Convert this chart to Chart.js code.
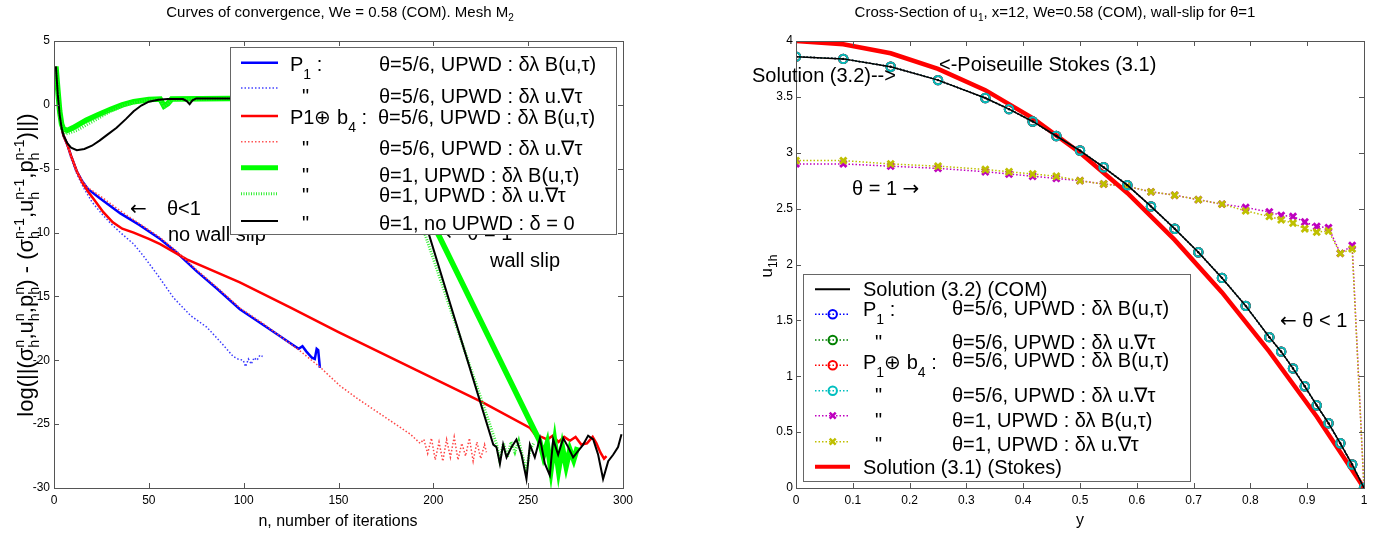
<!DOCTYPE html>
<html>
<head>
<meta charset="utf-8">
<script src="https://cdn.jsdelivr.net/npm/chart.js@4.4.1/dist/chart.umd.min.js"></script>
<style>
  body { margin: 0; background: #fff; width: 1385px; height: 533px; position: relative; overflow: hidden; }
  canvas { position: absolute; top: 0; }
  #conv { left: 0; }
  #cross { left: 700px; }
  #over { position: absolute; left: 0; top: 0; }
  .arr { font-family: 'DejaVu Sans', sans-serif; }
</style>
</head>
<body>
<canvas id="conv" width="690" height="533"></canvas>
<canvas id="cross" width="685" height="533"></canvas>
<svg id="over" width="1385" height="533" font-family="'Liberation Sans', Arial, sans-serif" font-size="20" fill="#000">
  <!-- titles and axis labels -->
  <text x="340" y="17" text-anchor="middle" font-size="15">Curves of convergence, We = 0.58 (COM). Mesh M<tspan font-size="10" dy="4">2</tspan></text>
  <text x="1055" y="17" text-anchor="middle" font-size="15">Cross-Section of u<tspan font-size="10" dy="4">1</tspan><tspan dy="-4">, x=12, We=0.58 (COM), wall-slip for θ=1</tspan></text>
  <text x="338" y="526" text-anchor="middle" font-size="16">n, number of iterations</text>
  <text x="1080" y="525" text-anchor="middle" font-size="16">y</text>
  <text id="ylab" transform="translate(33,265) rotate(-90)" text-anchor="middle" font-size="22"></text>
  <text transform="translate(772,266) rotate(-90)" text-anchor="middle" font-size="17">u<tspan font-size="12" dy="5">1h</tspan></text>

  <!-- left annotations (the first one sits behind the legend) -->
  <text x="445" y="240"><tspan class="arr">←</tspan> θ = 1</text>
  <text x="130" y="215" class="arr">←</text>
  <text x="167" y="215">θ&lt;1</text>
  <text x="168" y="241">no wall slip</text>
  <text x="490" y="267">wall slip</text>

  <!-- left legend -->
  <rect x="230.5" y="47.5" width="386" height="187" fill="#fff" stroke="#666"/>
  <line x1="241" x2="278" y1="62.7" y2="62.7" stroke="#0000ff" stroke-width="2.5"/>
  <line x1="241" x2="278" y1="88" y2="88" stroke="#4444ff" stroke-width="1.5" stroke-dasharray="1.5 2"/>
  <line x1="241" x2="278" y1="116" y2="116" stroke="#ff0000" stroke-width="2.5"/>
  <line x1="241" x2="278" y1="141.7" y2="141.7" stroke="#ff5555" stroke-width="1.5" stroke-dasharray="1.5 2"/>
  <line x1="241" x2="278" y1="167.7" y2="167.7" stroke="#00ff00" stroke-width="5"/>
  <line x1="241" x2="278" y1="193.7" y2="193.7" stroke="#33ee33" stroke-width="3" stroke-dasharray="1 1.5"/>
  <line x1="241" x2="278" y1="221" y2="221" stroke="#000" stroke-width="2"/>
  <text x="290" y="71">P<tspan font-size="14" dy="8">1</tspan><tspan dy="-8"> :</tspan></text>
  <text x="379" y="71">θ=5/6, UPWD : δλ B(u,τ)</text>
  <text x="302" y="103">"</text>
  <text x="379" y="103">θ=5/6, UPWD : δλ u.∇τ</text>
  <text x="290" y="124">P1⊕ b<tspan font-size="14" dy="8">4</tspan><tspan dy="-8"> :</tspan></text>
  <text x="378" y="124">θ=5/6, UPWD : δλ B(u,τ)</text>
  <text x="302" y="155">"</text>
  <text x="379" y="155">θ=5/6, UPWD : δλ u.∇τ</text>
  <text x="302" y="182">"</text>
  <text x="379" y="182">θ=1, UPWD : δλ B(u,τ)</text>
  <text x="302" y="202">"</text>
  <text x="379" y="202">θ=1, UPWD : δλ u.∇τ</text>
  <text x="302" y="229.5">"</text>
  <text x="379" y="229.5">θ=1, no UPWD : δ = 0</text>

  <!-- right annotations -->
  <text x="939" y="70.5">&lt;-Poiseuille Stokes (3.1)</text>
  <text x="752" y="82">Solution (3.2)--&gt;</text>
  <text x="852" y="195">θ = 1  <tspan class="arr">→</tspan></text>
  <text x="1280" y="327"><tspan class="arr">←</tspan> θ &lt; 1</text>

  <!-- right legend -->
  <rect x="803.5" y="274.5" width="387" height="207" fill="#fff" stroke="#666"/>
  <line x1="815" x2="850" y1="289.3" y2="289.3" stroke="#000" stroke-width="2"/>
  <line x1="815" x2="850" y1="314.3" y2="314.3" stroke="#0000ff" stroke-width="1.5" stroke-dasharray="1.5 2"/>
  <circle cx="832.7" cy="314.3" r="4.2" fill="none" stroke="#0000ff" stroke-width="2"/>
  <line x1="815" x2="850" y1="340" y2="340" stroke="#008000" stroke-width="1.5" stroke-dasharray="1.5 2"/>
  <circle cx="832.7" cy="340" r="4.2" fill="none" stroke="#008000" stroke-width="2"/>
  <line x1="815" x2="850" y1="365.3" y2="365.3" stroke="#ff0000" stroke-width="1.5" stroke-dasharray="1.5 2"/>
  <circle cx="832.7" cy="365.3" r="4.2" fill="none" stroke="#ff0000" stroke-width="2"/>
  <line x1="815" x2="850" y1="390.7" y2="390.7" stroke="#00bfbf" stroke-width="1.5" stroke-dasharray="1.5 2"/>
  <circle cx="832.7" cy="390.7" r="4.2" fill="none" stroke="#00bfbf" stroke-width="2"/>
  <line x1="815" x2="850" y1="415.7" y2="415.7" stroke="#bf00bf" stroke-width="1.5" stroke-dasharray="1.5 2"/>
  <path d="M829.7 412.7 L835.7 418.7 M835.7 412.7 L829.7 418.7" stroke="#bf00bf" stroke-width="2.5"/>
  <line x1="815" x2="850" y1="441.7" y2="441.7" stroke="#bfbf00" stroke-width="1.5" stroke-dasharray="1.5 2"/>
  <path d="M829.7 438.7 L835.7 444.7 M835.7 438.7 L829.7 444.7" stroke="#bfbf00" stroke-width="2.5"/>
  <line x1="815" x2="850" y1="466.7" y2="466.7" stroke="#ff0000" stroke-width="4"/>
  <text x="863" y="296">Solution (3.2) (COM)</text>
  <text x="863" y="316">P<tspan font-size="14" dy="8">1</tspan><tspan dy="-8"> :</tspan></text>
  <text x="952" y="315">θ=5/6, UPWD : δλ B(u,τ)</text>
  <text x="875" y="349">"</text>
  <text x="952" y="349">θ=5/6, UPWD : δλ u.∇τ</text>
  <text x="863" y="369">P<tspan font-size="14" dy="8">1</tspan><tspan dy="-8">⊕ b</tspan><tspan font-size="14" dy="8">4</tspan><tspan dy="-8"> :</tspan></text>
  <text x="952" y="367">θ=5/6, UPWD : δλ B(u,τ)</text>
  <text x="875" y="402">"</text>
  <text x="952" y="402">θ=5/6, UPWD : δλ u.∇τ</text>
  <text x="875" y="427">"</text>
  <text x="952" y="427">θ=1, UPWD : δλ B(u,τ)</text>
  <text x="875" y="450.5">"</text>
  <text x="952" y="450.5">θ=1, UPWD : δλ u.∇τ</text>
  <text x="863" y="474">Solution (3.1) (Stokes)</text>
</svg>
<script>
// ---- left panel: log of successive differences vs iteration n ----
const p1B_n = [1,2,3,4,5,7,9,12,15,18,24,35,45,56,65,75,86,98,110,120,126,129,131,133,136,137.5,138.5,139.3,140.2];
const p1B_v = [3,0.8,-0.8,-1.8,-2.4,-3.1,-4.0,-5.2,-6.0,-6.6,-7.3,-8.5,-9.4,-10.5,-11.6,-13.0,-14.4,-16.0,-17.2,-18.2,-18.8,-19.1,-18.9,-19.3,-19.8,-19.9,-19.1,-19.2,-20.6];

const p1T_n = [1,2,3,4,5,7,9,12,16,20,25,30,35,42,47,55,63,72,80.5,88,94.5,97,99.8,101,102.5,104,105.5,107,108.6,110];
const p1T_v = [3,0.8,-0.8,-1.8,-2.4,-3.2,-4.2,-5.4,-6.6,-7.6,-8.5,-9.3,-10.0,-10.9,-11.8,-13.4,-15.1,-16.5,-17.4,-18.6,-19.7,-19.9,-20.0,-20.5,-19.9,-20.3,-19.8,-20.0,-19.6,-19.7];

const bubB_n = [1,2,3,4,5,7,9,12,15,18,21,26,31,36,42,50,56,70,98,125,150,190,226,251,254,257,260,263,266,269,272,275,278,281,284,286,288,290,291.3];
const bubB_v = [3,0.8,-0.8,-1.8,-2.4,-3.1,-4.0,-5.2,-6.1,-6.8,-7.4,-8.4,-9.2,-9.7,-10.0,-10.5,-10.9,-12.1,-13.9,-15.9,-17.8,-20.7,-23.3,-25.3,-25.9,-26.0,-26.2,-25.9,-26.4,-26.0,-26.3,-26.0,-26.6,-26.5,-26.0,-26.5,-27.2,-27.7,-27.5];

const bubT_n = [1,2,3,4,5,7,9,12,15,18,24,35,45,56,65,75,86,98,110,120,130,140,150.8,160,170,180,188,193,195,197,199,201,203,205,207,209,211,213,215,217,219,221,223,225,227,228];
const bubT_v = [3,0.8,-0.8,-1.8,-2.4,-3.1,-4.0,-5.2,-6.0,-6.5,-7.1,-8.3,-9.3,-10.4,-11.5,-12.9,-14.3,-15.9,-17.1,-18.2,-19.3,-20.5,-22.0,-23.0,-24.0,-25.0,-25.8,-26.5,-26.2,-27.3,-26.1,-27.8,-26.4,-27.9,-26.2,-27.6,-26.0,-27.8,-26.5,-27.5,-26.1,-27.9,-26.4,-27.7,-26.6,-27.2];

const t1B_n = [1,2,3,4,5,7,10,17,23,30,36,42,50,56,58,60,62,93,165,203.5,256,258,260,262,264,266,268,270,272,274,276];
const t1B_v = [3,1.2,-0.5,-1.5,-1.9,-2.0,-1.8,-1.2,-0.8,-0.35,0,0.25,0.42,0.45,-0.1,0.1,0.45,0.5,0.5,-10.4,-26.3,-27.5,-26.5,-28.6,-26.4,-28.6,-26.8,-28.3,-27.0,-27.8,-26.8];

const t1T_n = [1,2,3,4,6,8,12,18,24,30,36,42,50,56,58,60,62,93,170,196,233.4,235,237,239,241,243,245,247,249,251,253];
const t1T_v = [3,1.0,-0.8,-1.8,-2.3,-2.2,-2.0,-1.5,-1.0,-0.5,-0.1,0.15,0.38,0.4,-0.2,0.05,0.4,0.5,0.5,-10.3,-26.6,-27.8,-26.5,-27.6,-26.4,-27.2,-26.3,-27.5,-28.6,-27.0,-26.5];

const t1N_n = [1,2,3,4,5,7,9,12,16,20,24,28,33,38,42,46,50,55,60,68,70,71.5,73,75,93,176,198,231.6,233.3,235.1,236.8,238.6,241.2,243.8,246.5,249.1,250.9,253.5,256.2,258.8,261.4,263.2,265.8,268.5,271.1,273.7,276.4,279,281.6,284.3,286.9,289.5,292.2,294.8,297.4,299.2];
const t1N_v = [3,0.8,-0.8,-1.8,-2.4,-3.0,-3.35,-3.55,-3.45,-3.2,-2.8,-2.35,-1.8,-1.1,-0.5,-0.05,0.25,0.4,0.45,0.45,0.3,0.05,0.35,0.5,0.5,0.5,-10.3,-26.6,-26.8,-28.1,-26.6,-27.6,-26.8,-26.2,-27.4,-29.3,-26.6,-27.6,-26.1,-28.1,-29.0,-26.2,-27.4,-26.1,-26.8,-27.6,-27.1,-26.6,-25.9,-26.2,-27.4,-29.3,-27.9,-27.4,-26.8,-25.8];

// ---- right panel: cross-section u_1h(y) ----
const yPos = [0,0.0833,0.1667,0.25,0.3333,0.375,0.4167,0.4583,0.5,0.5417,0.5833,0.625,0.6667,0.7083,0.75,0.7917,0.8333,0.8542,0.875,0.8958,0.9167,0.9375,0.9583,0.9792,1];
const uCOM = [3.86,3.84,3.77,3.65,3.49,3.39,3.28,3.15,3.02,2.87,2.71,2.52,2.32,2.11,1.88,1.63,1.35,1.22,1.07,0.91,0.74,0.58,0.40,0.21,0];
const uTheta56 = [3.86,3.84,3.77,3.65,3.49,3.39,3.28,3.15,3.02,2.87,2.71,2.52,2.32,2.11,1.88,1.63,1.35,1.22,1.07,0.91,0.74,0.58,0.40,0.21,0];
const uTheta1B = [2.90,2.90,2.88,2.86,2.83,2.81,2.79,2.77,2.75,2.72,2.70,2.65,2.62,2.58,2.54,2.51,2.47,2.44,2.43,2.38,2.34,2.33,2.10,2.17,0];
const uTheta1T = [2.93,2.93,2.90,2.88,2.85,2.83,2.81,2.79,2.75,2.72,2.70,2.65,2.62,2.58,2.54,2.48,2.43,2.40,2.37,2.32,2.29,2.30,2.10,2.14,0];
const yStokes = [0,0.0833,0.1667,0.25,0.3333,0.4167,0.5,0.5833,0.6667,0.75,0.8333,0.9167,1];
const uStokes = [4.0,3.97,3.89,3.75,3.56,3.31,3.0,2.64,2.22,1.75,1.22,0.64,0];

const pts = (xs, ys) => xs.map((x, i) => ({ x: x, y: ys[i] }));

Chart.defaults.font.family = "'Liberation Sans', Arial, sans-serif";
Chart.defaults.color = '#000';

// box around the plot with MATLAB-style inward ticks on all four sides
const frame = {
  id: 'frame',
  afterDraw(chart) {
    const { ctx, chartArea: a, scales } = chart;
    const len = 5;
    ctx.save();
    ctx.strokeStyle = '#555';
    ctx.lineWidth = 1;
    ctx.strokeRect(a.left + 0.5, a.top + 0.5, a.right - a.left, a.bottom - a.top);
    ctx.beginPath();
    scales.x.ticks.forEach(t => {
      const p = Math.round(scales.x.getPixelForValue(t.value)) + 0.5;
      ctx.moveTo(p, a.bottom); ctx.lineTo(p, a.bottom - len);
      ctx.moveTo(p, a.top); ctx.lineTo(p, a.top + len);
    });
    scales.y.ticks.forEach(t => {
      const p = Math.round(scales.y.getPixelForValue(t.value)) + 0.5;
      ctx.moveTo(a.left, p); ctx.lineTo(a.left + len, p);
      ctx.moveTo(a.right, p); ctx.lineTo(a.right - len, p);
    });
    ctx.stroke();
    ctx.restore();
  }
};

function axis(min, max, step, pad, fit) {
  return {
    type: 'linear', min: min, max: max,
    ticks: {
      stepSize: step, padding: pad, color: '#000', font: { size: 12 }, autoSkip: false, maxRotation: 0,
      callback: v => String(Math.round(v * 1000) / 1000)
    },
    grid: { display: false, drawTicks: false },
    border: { display: false },
    afterFit: fit
  };
}

function line(data, color, width, dash) {
  return { data: data, borderColor: color, borderWidth: width, borderDash: dash || [], pointRadius: 0, fill: false, tension: 0 };
}

// first dataset is drawn on top
new Chart(document.getElementById('conv'), {
  type: 'line',
  data: {
    datasets: [
      line(pts(t1N_n, t1N_v), '#000000', 2),
      line(pts(t1T_n, t1T_v), '#33ee33', 3, [1, 1.5]),
      line(pts(t1B_n, t1B_v), '#00ff00', 5.5),
      line(pts(bubT_n, bubT_v), '#ff4444', 1.5, [1.5, 2]),
      line(pts(bubB_n, bubB_v), '#ff0000', 2.5),
      line(pts(p1T_n, p1T_v), '#3a3aff', 1.5, [1.5, 2]),
      line(pts(p1B_n, p1B_v), '#0000ff', 2.5)
    ]
  },
  options: {
    responsive: false,
    animation: false,
    layout: { padding: { top: 41, right: 67, bottom: 0, left: 0 } },
    plugins: { legend: { display: false }, tooltip: { enabled: false } },
    scales: {
      x: axis(0, 300, 50, 5, s => { s.height = 45; }),
      y: axis(-30, 5, 5, 4, s => { s.width = 54; })
    }
  },
  plugins: [frame]
});

function marked(data, color, style, radius, width) {
  return {
    data: data, borderColor: color, borderWidth: 1.5, borderDash: [1.5, 2], tension: 0, fill: false,
    pointStyle: style, pointRadius: radius, pointBorderColor: color, pointBorderWidth: width,
    pointBackgroundColor: 'rgba(0,0,0,0)'
  };
}

new Chart(document.getElementById('cross'), {
  type: 'line',
  data: {
    datasets: [
      { data: pts(yPos, uCOM), borderColor: '#000', borderWidth: 1.5, pointRadius: 1.2, pointBackgroundColor: '#000', pointBorderWidth: 0, tension: 0, fill: false },
      marked(pts(yPos, uTheta56), '#00bfbf', 'circle', 4.2, 2),
      marked(pts(yPos, uTheta56), '#ff0000', 'circle', 4.2, 2),
      marked(pts(yPos, uTheta56), '#008000', 'circle', 4.2, 2),
      marked(pts(yPos, uTheta56), '#0000ff', 'circle', 4.2, 2),
      { data: pts(yStokes, uStokes), borderColor: '#ff0000', borderWidth: 4.5, pointRadius: 0, tension: 0, fill: false },
      marked(pts(yPos, uTheta1T), '#bfbf00', 'crossRot', 4.5, 2.8),
      marked(pts(yPos, uTheta1B), '#bf00bf', 'crossRot', 4.5, 2.8)
    ]
  },
  options: {
    responsive: false,
    animation: false,
    layout: { padding: { top: 41, right: 21, bottom: 0, left: 0 } },
    plugins: { legend: { display: false }, tooltip: { enabled: false } },
    scales: {
      x: axis(0, 1, 0.1, 5, s => { s.height = 45; }),
      y: axis(0, 4, 0.5, 3, s => { s.width = 96; })
    }
  },
  plugins: [frame]
});

// y-axis label of the left panel with stacked sub/superscripts
function stacked(parts) {
  let s = '', back = 0;
  parts.forEach(([t, lo, hi]) => {
    s += `<tspan dy="${back}">${t}</tspan>`;
    if (lo) {
      s += `<tspan font-size="14.5" dy="6">${lo}</tspan><tspan font-size="14.5" dx="${-lo.length * 8.1}" dy="-15.5">${hi}</tspan>`;
      back = 9.5;
    } else {
      back = 0;
    }
  });
  return s;
}
document.getElementById('ylab').innerHTML = stacked([
  ['log(||(σ', 'h', 'n'], [',u', 'h', 'n'], [',p', 'h', 'n'],
  [') - (σ', 'h', 'n-1'], [',u', 'h', 'n-1'], [',p', 'h', 'n-1'], [')||)', null, null]
]);
</script>
</body>
</html>
